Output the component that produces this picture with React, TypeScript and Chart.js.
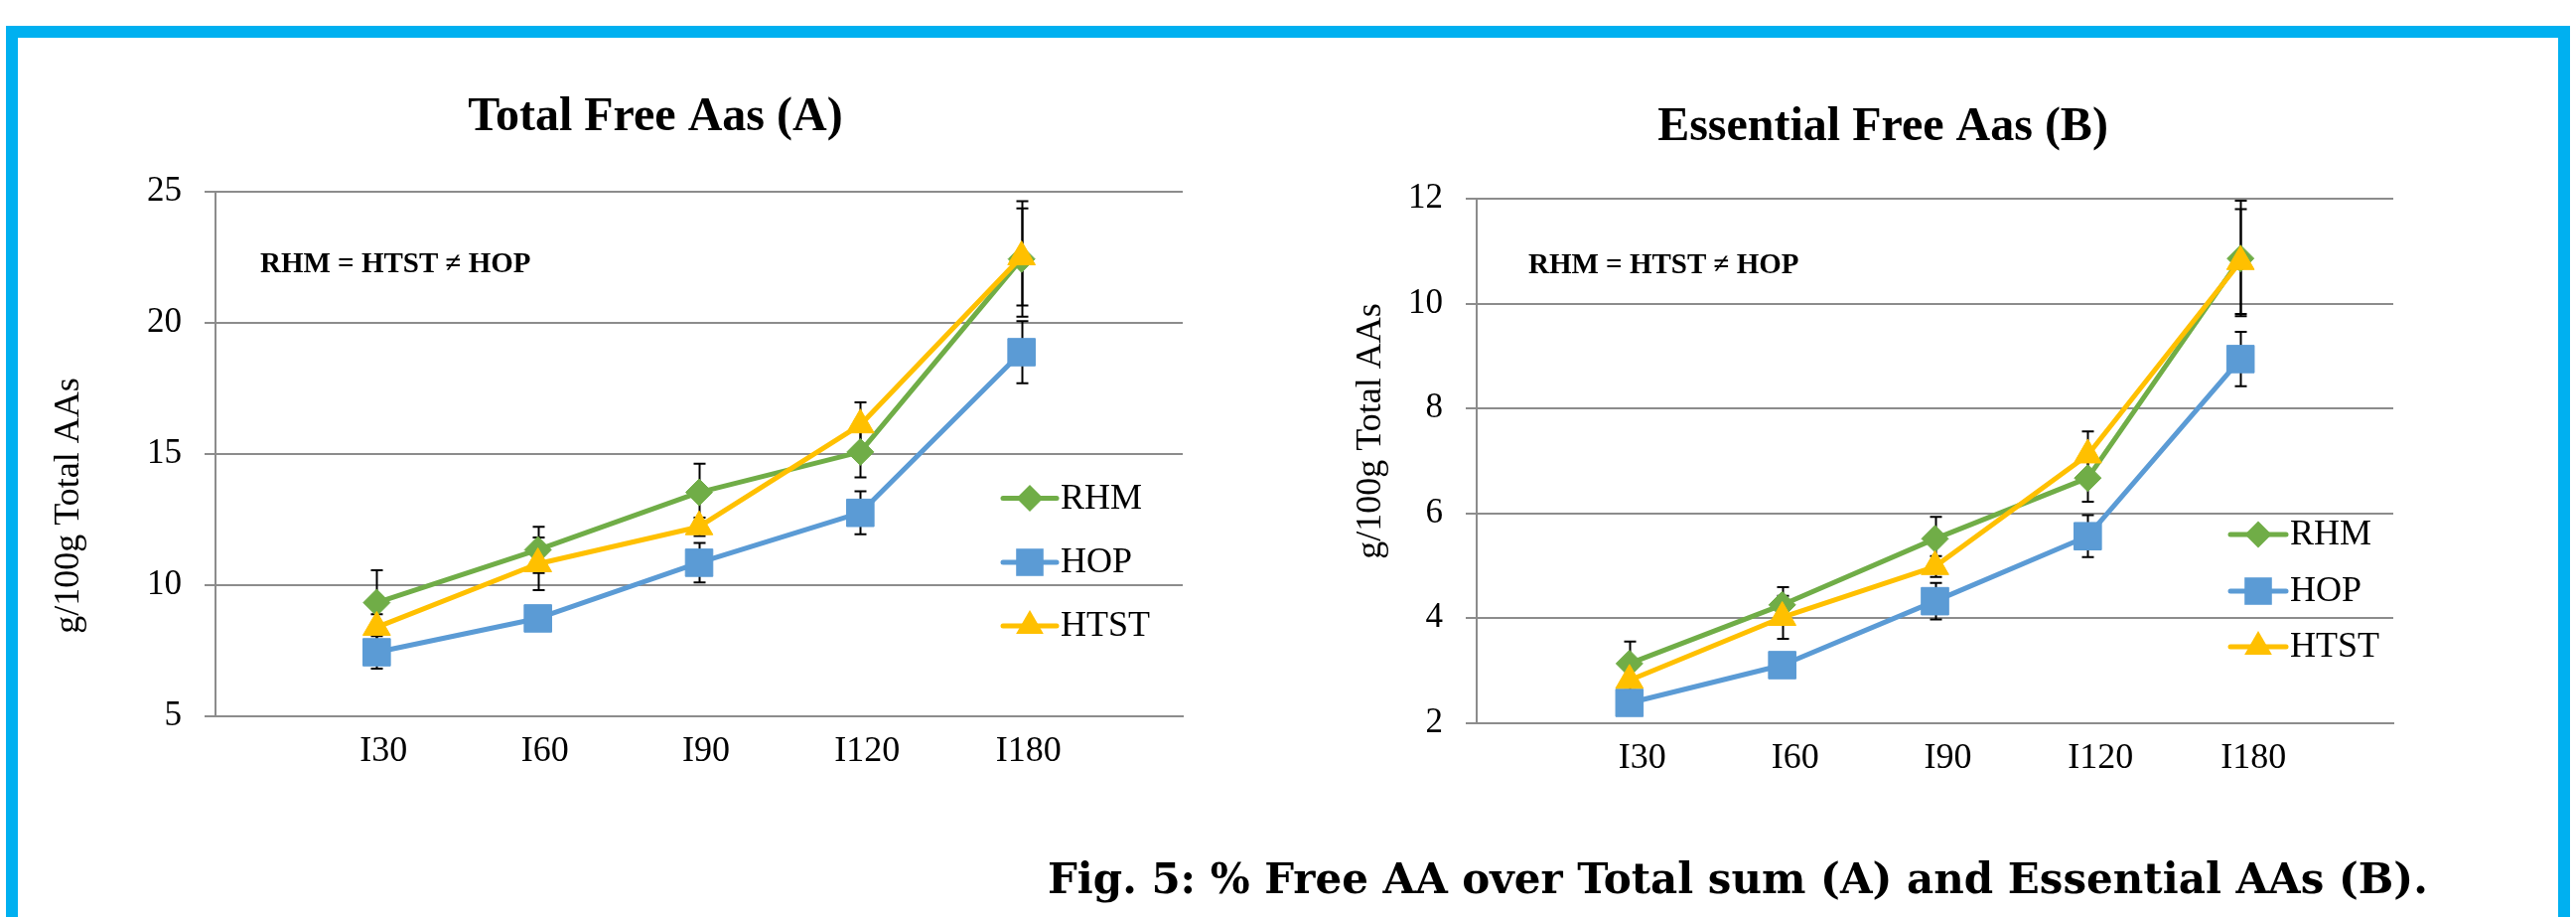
import React, { useEffect, useRef } from 'react';
import { Chart, registerables } from 'chart.js';

Chart.register(...registerables);

// ---------- data ----------
const categories = ['I30', 'I60', 'I90', 'I120', 'I180'];
const seriesNames = ['RHM', 'HOP', 'HTST'];
const seriesColors = ['#70AD47', '#5B9BD5', '#FFC000'];
const seriesMarkers = ['rectRot', 'rect', 'triangle'];

// (A) Total free AAs, g/100g total AAs
const totalRHM = [9.33, 11.34, 13.53, 15.07, 22.42];
const totalHOP = [7.44, 8.73, 10.85, 12.75, 18.87];
const totalHTST = [8.39, 10.81, 12.22, 16.1, 22.5];
const totalRHMErr = [1.23, 0.88, 1.09, 0.97, 2.2];
const totalHOPErr = [0.62, 0.3, 0.75, 0.82, 1.18];
const totalHTSTErr = [0.5, 1.0, 0.35, 0.86, 1.85];
const totalTicks = [5, 10, 15, 20, 25];

// (B) Essential free AAs, g/100g total AAs
const essRHM = [3.13, 4.25, 5.51, 6.67, 10.86];
const essHOP = [2.38, 3.1, 4.32, 5.56, 8.94];
const essHTST = [2.81, 4.01, 4.98, 7.11, 10.8];
const essRHMErr = [0.42, 0.34, 0.42, 0.45, 1.1];
const essHOPErr = [0.24, 0.15, 0.35, 0.4, 0.52];
const essHTSTErr = [0.25, 0.41, 0.2, 0.45, 1.0];
const essTicks = [2, 4, 6, 8, 10, 12];

const titleA = 'Total Free Aas (A)';
const titleB = 'Essential Free Aas (B)';
const yTitle = 'g/100g Total AAs';
const note = 'RHM = HTST \u2260 HOP';
const caption = 'Fig. 5: % Free AA over Total sum (A) and Essential AAs (B).';

// ---------- styling ----------
const SERIF = '"Liberation Serif", "Times New Roman", serif';
const GRID = '#8c8c8c';
const markerRadius = [13.5, 19.5, 16];

function drawMarker(ctx: CanvasRenderingContext2D, style: string, x: number, y: number, r: number) {
  ctx.beginPath();
  if (style === 'rect') {
    const s = r * Math.SQRT1_2;
    ctx.rect(x - s, y - s, 2 * s, 2 * s);
  } else if (style === 'rectRot') {
    ctx.moveTo(x, y - r);
    ctx.lineTo(x + r, y);
    ctx.lineTo(x, y + r);
    ctx.lineTo(x - r, y);
    ctx.closePath();
  } else {
    ctx.moveTo(x, y - r);
    ctx.lineTo(x + r * Math.sin((2 * Math.PI) / 3), y - r * Math.cos((2 * Math.PI) / 3));
    ctx.lineTo(x + r * Math.sin((4 * Math.PI) / 3), y - r * Math.cos((4 * Math.PI) / 3));
    ctx.closePath();
  }
  ctx.fill();
}

function makeOverlay(cfg: any) {
  return {
    id: 'overlay-' + cfg.id,
    beforeDatasetsDraw(chart: any) {
      const ctx = chart.ctx as CanvasRenderingContext2D;
      const xs = chart.scales.x;
      const ys = chart.scales.y;
      ctx.save();
      ctx.strokeStyle = '#000';
      ctx.lineWidth = 2;
      cfg.series.forEach((vals: number[], i: number) => {
        const errs = cfg.errors[i];
        vals.forEach((v, j) => {
          const x = Math.round(xs.getPixelForValue(j + 1)) + 0.5;
          const yt = ys.getPixelForValue(v + errs[j]);
          const yb = ys.getPixelForValue(v - errs[j]);
          ctx.beginPath();
          ctx.moveTo(x, yt);
          ctx.lineTo(x, yb);
          ctx.moveTo(x - 6, yt);
          ctx.lineTo(x + 6, yt);
          ctx.moveTo(x - 6, yb);
          ctx.lineTo(x + 6, yb);
          ctx.stroke();
        });
      });
      ctx.restore();
    },
    afterDraw(chart: any) {
      const ctx = chart.ctx as CanvasRenderingContext2D;
      ctx.save();
      ctx.fillStyle = '#000';
      // chart title
      ctx.font = 'bold 48px ' + SERIF;
      ctx.textAlign = 'center';
      ctx.textBaseline = 'alphabetic';
      ctx.fillText(cfg.title, cfg.titleX, cfg.titleY);
      // significance note
      ctx.font = 'bold 29px ' + SERIF;
      ctx.textAlign = 'left';
      ctx.fillText(note, cfg.noteX, cfg.noteY);
      // y-axis title
      ctx.save();
      ctx.translate(cfg.yTitleX, cfg.yTitleY);
      ctx.rotate(-Math.PI / 2);
      ctx.font = '36px ' + SERIF;
      ctx.textAlign = 'center';
      ctx.fillText(yTitle, 0, 0);
      ctx.restore();
      // legend
      seriesNames.forEach((name, i) => {
        const y = cfg.legendY[i];
        ctx.strokeStyle = seriesColors[i];
        ctx.fillStyle = seriesColors[i];
        ctx.lineWidth = 5;
        ctx.lineCap = 'round';
        ctx.beginPath();
        ctx.moveTo(cfg.legendX1, y);
        ctx.lineTo(cfg.legendX2, y);
        ctx.stroke();
        drawMarker(ctx, seriesMarkers[i], (cfg.legendX1 + cfg.legendX2) / 2, y, markerRadius[i]);
        ctx.fillStyle = '#000';
        ctx.font = '36px ' + SERIF;
        ctx.textAlign = 'left';
        ctx.textBaseline = 'middle';
        ctx.fillText(name, cfg.legendX2 + 4, y + 1);
        ctx.textBaseline = 'alphabetic';
      });
      ctx.restore();
    },
  };
}

function buildConfig(cfg: any) {
  const ticks: number[] = cfg.ticks;
  return {
    type: 'line',
    data: {
      labels: ['', ...categories, ''],
      datasets: cfg.series.map((vals: number[], i: number) => ({
        label: seriesNames[i],
        data: [null, ...vals, null],
        borderColor: seriesColors[i],
        backgroundColor: seriesColors[i],
        borderWidth: 5,
        borderJoinStyle: 'round',
        borderCapStyle: 'round',
        pointStyle: seriesMarkers[i],
        pointRadius: markerRadius[i],
        pointHoverRadius: markerRadius[i],
        pointBorderWidth: 1,
        pointBorderColor: seriesColors[i],
        pointBackgroundColor: seriesColors[i],
        tension: 0,
        order: 2 - i,
      })),
    },
    options: {
      animation: false,
      responsive: false,
      maintainAspectRatio: false,
      events: [],
      layout: { padding: { left: 0, top: cfg.padTop, right: cfg.padRight, bottom: cfg.padBottom } },
      plugins: { legend: { display: false }, title: { display: false }, tooltip: { enabled: false } },
      scales: {
        x: {
          offset: false,
          grid: { display: false, drawTicks: false },
          border: { display: true, color: GRID, width: 2 },
          ticks: {
            autoSkip: false,
            maxRotation: 0,
            padding: 14,
            labelOffset: cfg.labelOffset,
            color: '#000',
            font: { family: SERIF, size: 36 },
          },
          afterFit: (s: any) => {
            s.height = 80;
          },
        },
        y: {
          min: ticks[0],
          max: ticks[ticks.length - 1],
          ticks: {
            stepSize: ticks[1] - ticks[0],
            padding: 23,
            color: '#000',
            font: { family: SERIF, size: 35 },
          },
          grid: { color: GRID, lineWidth: 2, tickLength: 11, drawTicks: true },
          border: { display: true, color: GRID, width: 2 },
          afterFit: (s: any) => {
            s.width = cfg.axisWidth;
          },
        },
      },
    },
    plugins: [makeOverlay(cfg)],
  };
}

const configA = {
  id: 'A',
  series: [totalRHM, totalHOP, totalHTST],
  errors: [totalRHMErr, totalHOPErr, totalHTSTErr],
  ticks: totalTicks,
  title: titleA,
  titleX: 660,
  titleY: 131,
  noteX: 262,
  noteY: 274,
  yTitleX: 79,
  yTitleY: 509,
  legendX1: 1010,
  legendX2: 1064,
  legendY: [501.5, 566, 630],
  axisWidth: 217,
  padTop: 192.5,
  padRight: 106,
  padBottom: 122,
  labelOffset: 7,
};

const configB = {
  id: 'B',
  series: [essRHM, essHOP, essHTST],
  errors: [essRHMErr, essHOPErr, essHTSTErr],
  ticks: essTicks,
  title: titleB,
  titleX: 599,
  titleY: 141,
  noteX: 242,
  noteY: 275,
  yTitleX: 93,
  yTitleY: 434,
  legendX1: 949,
  legendX2: 1005,
  legendY: [538, 595, 651],
  axisWidth: 190,
  padTop: 200,
  padRight: 184,
  padBottom: 115.5,
  labelOffset: 13,
};

function ChartPanel({ cfg, left }: { cfg: any; left: number }) {
  const ref = useRef<HTMLCanvasElement | null>(null);
  useEffect(() => {
    if (!ref.current) return;
    const chart = new Chart(ref.current, buildConfig(cfg) as any);
    return () => chart.destroy();
  }, [cfg]);
  return (
    <canvas
      ref={ref}
      width={1297}
      height={923}
      style={{ position: 'absolute', left, top: 0, width: 1297, height: 923 }}
    />
  );
}

export default function App() {
  return (
    <div
      style={{
        position: 'fixed',
        left: 0,
        top: 0,
        width: 2594,
        height: 923,
        overflow: 'hidden',
        background: '#fff',
      }}
    >
      <div
        style={{
          position: 'absolute',
          left: 6,
          top: 26,
          width: 2582 - 24,
          height: 1000,
          borderTop: '12px solid #00B0F0',
          borderLeft: '12px solid #00B0F0',
          borderRight: '12px solid #00B0F0',
        }}
      />
      <ChartPanel cfg={configA} left={0} />
      <ChartPanel cfg={configB} left={1297} />
      <div
        style={{
          position: 'absolute',
          left: 1055,
          top: 864,
          fontFamily: '"DejaVu Serif", serif',
          fontWeight: 'bold',
          fontSize: 42,
          lineHeight: '42px',
          whiteSpace: 'nowrap',
          color: '#000',
        }}
      >
        {caption}
      </div>
    </div>
  );
}
